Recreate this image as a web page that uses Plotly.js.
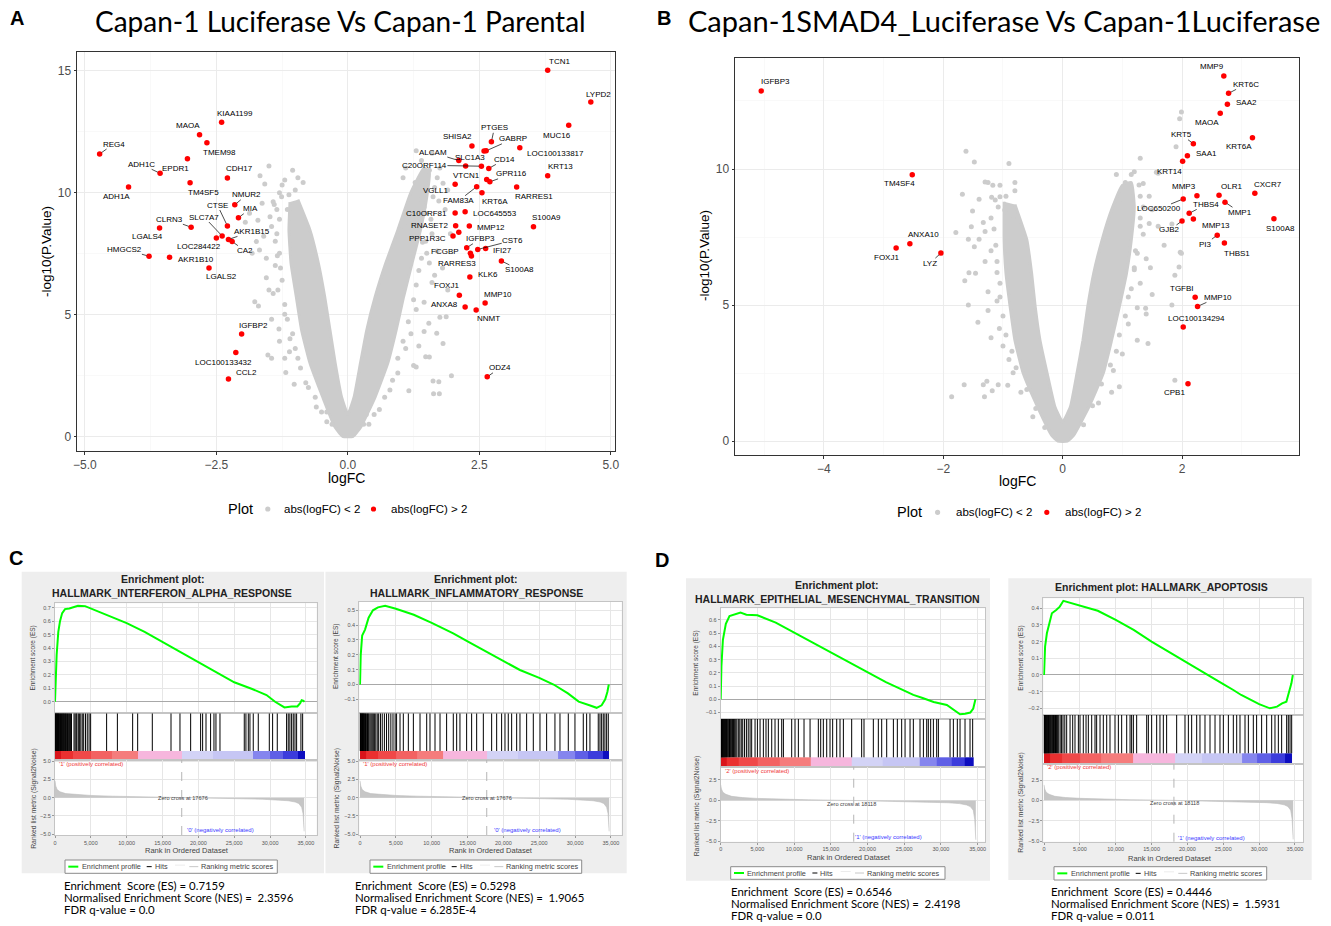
<!DOCTYPE html>
<html><head><meta charset="utf-8">
<script src="https://cdn.plot.ly/plotly-3.0.1.min.js"></script>
<style>html,body{margin:0;padding:0;background:#fff}#chart{width:1331px;height:926px}</style>
</head><body><div id="chart"></div>
<script>
// ================= DATA =================
// ---- Panel A: Capan-1 Luciferase vs Capan-1 Parental ----
const aGenes = ['REG4','KIAA1199','MAOA','TMEM98','EPDR1','ADH1C','CDH17','TM4SF5','ADH1A','NMUR2',
 'MIA','CTSE','SLC7A7','LOC284422','AKR1B15','CA2','CLRN3','LGALS4','HMGCS2','AKR1B10',
 'LGALS2','IGFBP2','LOC100133432','CCL2','TCN1','LYPD2','MUC16','LOC100133817','KRT13','RARRES1',
 'S100A9','SHISA2','PTGES','GABRP','ALCAM','SLC1A3','C20ORF114','CD14','VTCN1','GPR116',
 'FAM83A','KRT6A','VGLL1','C10ORF81','LOC645553','RNASET2','MMP12','PPP1R3C','IGFBP3','CST6',
 'FCGBP','IFI27','RARRES3','S100A8','KLK6','FOXJ1','MMP10','ANXA8','NNMT','ODZ4',
 '',''];
const aLogFC = [-4.72,-2.40,-2.82,-2.68,-3.05,-3.57,-2.29,-3.00,-4.17,-2.15,
 -2.08,-2.29,-2.39,-2.50,-2.27,-2.20,-2.98,-3.58,-3.78,-3.39,
 -2.64,-2.02,-2.13,-2.27,3.80,4.62,4.20,3.27,3.80,3.21,
 3.53,2.36,2.73,2.63,2.11,2.24,2.54,2.68,2.64,2.70,
 2.45,2.55,2.04,2.04,2.23,2.05,2.31,2.00,2.26,2.47,
 2.33,2.62,2.35,2.92,2.32,2.12,2.61,2.23,2.44,2.65,
 2.59,2.11];
const aNegLogP = [11.57,12.87,12.36,12.03,11.38,10.78,10.59,10.39,10.22,9.49,
 8.96,8.62,8.21,8.13,8.07,7.98,8.57,8.54,7.38,7.34,
 6.90,4.19,3.44,2.35,15.00,13.70,12.75,11.83,10.68,10.22,
 8.59,11.90,12.07,11.70,11.30,11.08,11.07,10.98,10.53,10.43,
 10.23,9.98,10.33,9.15,9.20,8.63,8.62,8.21,7.73,7.66,
 7.50,7.70,7.39,7.19,6.53,5.78,5.46,5.30,5.18,2.44,
 11.69,8.36];
const aGreyLogFC = [-1.67,-1.58,-1.30,-1.63,-1.42,-1.87,-1.71,-1.95,-1.74,-1.68,
 -1.82,-1.55,-1.77,-1.70,-1.52,-1.45,-1.18,-1.31,-1.11,-1.50,
 -1.26,-1.02,-1.38,-1.34,-1.42,-1.55,-1.30,-1.35,-1.25,-1.20,
 -1.10,-0.95,-0.80,-0.60,-1.35,-1.45,-1.15,-1.00,-0.85,-1.20,
 1.55,1.30,1.63,1.74,1.97,1.62,1.73,1.16,1.19,1.35,
 1.62,1.73,1.37,1.49,1.21,1.75,1.87,1.54,1.69,1.48,
 1.81,1.49,1.81,1.14,1.02,1.55,1.70,1.90,1.85,1.60,
 1.70,1.80,1.90,1.60,1.45,1.35,1.50,1.95,1.20,1.10,
 0.95,0.80,0.60,1.30,1.42,1.28,1.05,1.40,-0.30,0.30,
 0.35,-0.40,
 -1.40,-1.48,-1.38,-1.30,-1.28,-1.33,-1.20,-1.15,-1.05,-1.00,
 -0.90,-0.75,-0.62,-0.50,-0.40,-1.12,-1.25,-0.95,-1.05,-1.60,
 -1.50,-1.45,-1.30,-1.20,
 1.45,1.58,1.48,1.40,1.30,1.25,1.15,1.05,0.95,0.85,
 0.70,0.50,0.40,1.65,1.75,1.60,1.30,1.10,1.55,1.65,
 1.45,1.35,1.25];
const aGreyNegLogP = [10.68,10.34,9.98,9.55,9.61,9.14,8.86,8.77,7.98,7.64,
 7.50,7.30,5.52,5.34,3.33,3.20,2.62,4.40,3.47,11.08,
 9.82,2.14,7.00,7.40,5.85,6.50,8.90,8.30,6.40,5.00,
 4.00,3.20,2.20,1.20,9.30,8.60,9.30,10.10,10.40,10.50,
 3.25,2.84,1.75,1.75,2.48,2.27,2.24,1.87,9.71,9.71,
 9.82,9.64,9.00,9.14,8.59,4.88,4.90,4.63,4.22,3.26,
 3.81,10.23,10.37,8.59,8.45,10.90,10.60,10.10,9.30,8.30,
 7.60,6.90,6.00,6.30,5.50,6.80,7.50,8.30,4.20,3.60,
 2.60,1.90,1.10,5.20,7.95,10.40,10.60,11.30,0.50,0.50,
 0.90,1.00,
 9.50,9.00,8.00,7.50,6.90,6.00,5.40,4.80,4.20,3.60,
 2.80,2.00,1.60,1.00,0.60,9.90,10.30,10.60,10.90,8.20,
 6.00,4.80,3.90,3.20,
 9.40,8.90,8.00,7.30,6.20,5.60,4.70,3.90,3.20,2.30,
 1.60,0.90,0.50,10.20,11.00,11.60,11.70,11.00,7.10,6.60,
 4.30,3.70,2.90];
// outline of the dense grey V-shaped cloud (|logFC| < 2)
const aCoreLogFC = [-1.10,-1.12,-1.08,-0.98,-0.88,-0.72,-0.48,-0.25,-0.10,0.10,
 0.25,0.52,0.76,0.92,1.06,1.22,1.38,1.50,1.55,1.45,
 1.20,0.95,0.72,0.52,0.36,0.24,0.12,0.00,-0.12,-0.24,
 -0.34,-0.44,-0.56,-0.72,-0.95];
const aCoreNegLogP = [9.60,8.45,7.09,5.72,4.36,3.00,1.62,0.40,0.00,0.00,
 0.40,1.62,3.00,4.36,5.72,7.09,8.45,9.80,10.80,11.00,
 10.00,8.45,7.09,5.72,4.36,3.00,1.62,0.90,1.62,3.00,
 4.36,5.72,7.09,8.45,9.70];

// ---- Panel B: Capan-1 SMAD4_Luciferase vs Capan-1 Luciferase ----
const bGenes = ['IGFBP3','TM4SF4','ANXA10','FOXJ1','LYZ','MMP9','KRT6C','SAA2','MAOA','KRT5',
 'KRT6A','SAA1','KRT14','MMP3','OLR1','CXCR7','LOC650200','MMP1','THBS4','GJB2',
 'MMP13','S100A8','PI3','THBS1','TGFBI','MMP10','LOC100134294','CPB1'];
const bLogFC = [-5.05,-2.52,-2.56,-2.79,-2.04,2.70,2.78,2.76,2.64,2.19,
 3.18,2.09,2.01,2.25,2.62,3.22,2.02,2.72,2.12,2.00,
 2.19,3.54,2.59,2.71,2.22,2.26,2.02,2.10];
const bNegLogP = [12.87,9.79,7.25,7.10,6.91,13.42,12.78,12.38,12.05,10.93,
 11.15,10.49,10.29,9.02,9.04,9.11,8.90,8.78,8.37,8.09,
 8.16,8.17,7.57,7.28,5.29,4.95,4.19,2.11];
const bGreyLogFC = [1.99,1.96,1.90,1.57,1.60,1.35,1.28,1.02,1.83,1.99,
 -1.05,-0.97,-0.83,-1.62,-1.48,-1.30,-1.25,-1.17,-1.05,-1.68,
 -1.51,-1.40,-1.19,-1.13,-1.79,-1.53,-1.33,-1.58,-1.40,-1.48,
 -1.57,-1.46,-1.64,-1.58,-1.42,-1.86,-1.65,-1.33,-1.27,-1.08,
 -0.92,-1.18,-1.31,-0.83,-1.06,-1.25,-1.10,1.50,1.83,1.43,
 1.25,1.39,1.40,1.88,0.95,0.82,1.97,1.95,1.88,1.47,
 1.20,-1.20,-1.10,-1.30,-1.20,-1.00,-0.90,-1.05,-0.70,-0.50,
 1.30,1.35,1.25,1.15,1.10,1.00,0.85,0.60,1.50,1.60,
 1.70,1.45,1.15,1.30,0.90,-0.80,-0.90,
 -1.08,-1.15,-1.12,-1.10,-1.05,-1.00,-0.95,-0.85,-0.78,-0.60,
 -0.45,-0.30,-0.95,-0.80,-1.30,-1.25,-1.20,
 1.30,1.35,1.30,1.22,1.20,1.10,1.05,0.95,0.90,0.80,
 0.65,0.50,0.35,1.05,1.20,1.45,1.40,1.30,1.25];
const bGreyNegLogP = [12.10,11.85,10.82,9.88,9.84,9.47,9.41,8.86,7.98,6.90,
 8.98,8.49,8.26,10.65,10.26,9.52,9.50,9.40,9.40,9.07,
 8.46,8.89,8.96,8.86,7.67,7.88,8.03,7.42,7.42,7.14,
 6.19,6.17,5.89,5.00,4.37,1.63,2.07,2.07,2.20,2.07,
 2.05,1.85,1.63,2.51,4.14,5.49,5.15,5.39,5.00,3.59,
 3.71,4.88,4.67,2.24,2.00,1.80,6.94,6.40,6.10,6.37,
 6.37,7.00,6.60,6.60,8.20,3.50,3.00,5.80,1.80,0.90,
 8.20,7.60,6.90,5.60,4.30,3.20,2.60,1.40,8.50,7.90,
 7.20,9.00,9.80,10.40,9.80,9.50,10.20,
 8.60,7.80,7.20,6.20,5.30,4.60,3.90,3.30,2.70,1.90,
 1.20,0.50,9.00,9.20,7.70,4.80,3.80,
 9.00,8.60,7.90,7.00,6.30,5.30,4.60,3.90,3.30,2.80,
 2.10,1.30,0.60,9.50,9.90,8.00,6.70,5.80,4.90];
const bCoreLogFC = [-0.98,-0.98,-0.95,-0.88,-0.80,-0.66,-0.42,-0.18,-0.08,0.08,
 0.18,0.44,0.68,0.82,0.95,1.07,1.15,1.20,1.15,1.00,
 0.82,0.66,0.52,0.42,0.34,0.24,0.13,0.00,-0.13,-0.26,
 -0.38,-0.46,-0.52,-0.60,-0.80];
const bCoreNegLogP = [8.80,7.40,6.17,4.94,3.71,2.49,1.26,0.20,0.00,0.00,
 0.20,1.26,2.49,3.71,4.94,6.17,7.39,8.60,9.50,9.40,
 8.50,7.39,6.17,4.94,3.71,2.49,1.26,0.70,1.26,2.49,
 3.71,4.94,6.17,7.40,8.70];

// ---- GSEA panels (C: two gene sets, D: two gene sets) ----
const gseaTitles = [['Enrichment plot:','HALLMARK_INTERFERON_ALPHA_RESPONSE'],
 ['Enrichment plot:','HALLMARK_INFLAMMATORY_RESPONSE'],
 ['Enrichment plot:','HALLMARK_EPITHELIAL_MESENCHYMAL_TRANSITION'],
 ['Enrichment plot: HALLMARK_APOPTOSIS']];
const c1EsRank = [0,100,230,460,700,1000,1400,2000,2600,3200,4200,5000,7500,10000,12500,15000,17500,20000,22500,25000,27500,29500,30700,31500,32000,33000,33800,34200,34400,34600,34800];
const c1Es = [0,0.20,0.35,0.52,0.60,0.66,0.69,0.695,0.705,0.715,0.712,0.695,0.64,0.585,0.52,0.445,0.37,0.29,0.215,0.145,0.095,0.05,0.0,-0.03,-0.042,-0.035,-0.035,-0.01,0.012,0.008,0.0];
const c2EsRank = [0,100,300,700,1200,1800,2500,3500,5000,7500,10000,13000,15000,17500,20000,22300,25000,27000,29000,30500,32000,33000,33700,34200,34500,34700];
const c2Es = [0,0.20,0.33,0.37,0.45,0.50,0.52,0.53,0.51,0.47,0.415,0.345,0.29,0.226,0.16,0.098,0.045,0.0,-0.06,-0.115,-0.14,-0.157,-0.14,-0.10,-0.05,0.0];
const d1EsRank = [0,100,300,700,1200,1700,2700,3500,5000,7500,10000,12500,15000,17200,20000,22500,25000,26240,27500,29000,30800,32000,32600,33300,34000,34400,34700];
const d1Es = [0,0.25,0.45,0.57,0.63,0.64,0.655,0.64,0.635,0.58,0.505,0.43,0.355,0.285,0.20,0.13,0.065,0.033,0.01,-0.02,-0.043,-0.09,-0.113,-0.11,-0.10,-0.07,0.0];
const d2EsRank = [0,150,400,800,1100,1700,2200,2700,3500,5000,7500,10000,12500,15000,17500,20000,22500,25000,26400,27500,30000,31500,32500,33200,33800,34200,34500,34700];
const d2Es = [0,0.17,0.25,0.33,0.37,0.39,0.41,0.445,0.435,0.42,0.385,0.33,0.27,0.20,0.135,0.07,0.01,-0.055,-0.09,-0.12,-0.175,-0.20,-0.19,-0.17,-0.16,-0.10,-0.05,0.0];
const c1Hits = [30,80,130,180,240,300,360,420,480,540,600,680,760,840,920,1000,1080,1150,1230,1300,1400,1480,1560,1650,1750,1850,1950,2050,2150,2300,2650,2800,2950,3050,3250,3400,3600,3800,4000,4250,4500,4750,4970,7200,8700,10830,11530,13570,16180,17430,18920,20310,20590,21060,21700,22170,22450,23010,26400,26630,26960,27190,27650,28350,29890,30350,31000,32300,32530,32760,33000,33230,33470,33700,34300,34540];
const c2Hits = [20,70,120,170,230,290,350,410,470,530,600,680,760,850,950,1050,1150,1250,1400,1550,1700,1850,2000,2200,2400,2600,2850,3100,3400,3700,4000,4300,4600,4900,5100,5580,6040,6740,7440,8370,9300,9760,10460,11160,12080,13010,13480,13940,14870,15570,16270,17200,18360,19060,19750,20220,20680,21150,21850,22310,23240,24170,25100,26030,27190,27890,29050,29980,31140,31610,32070,33230,33470,33700,33930,34160,34400,34630];
const d1Hits = [20,70,120,170,230,290,350,420,490,560,640,720,800,900,1000,1100,1200,1320,1450,1600,1750,1900,2050,2200,2400,2600,2800,3000,3250,3500,3750,4000,4220,4680,5000,5360,5810,6170,6490,6950,7400,7850,8310,8540,9670,10120,10580,11350,12170,13300,13620,13980,14440,14890,15250,15800,16250,16710,17840,19200,19520,20790,21470,21930,22610,23520,24060,24650,25110,25790,26240,27150,27610,28060,28280,28600,28970,29420,29650,31240,31690,32230,32600,33280,33960,34320];
const d2Hits = [20,70,130,190,250,320,390,460,540,620,700,790,880,980,1080,1200,1320,1450,1600,1750,1900,2050,2250,2450,2650,2900,3160,3630,4000,4320,4790,5020,5480,5860,6180,6650,7110,7340,7810,8270,8740,9200,9900,10370,10830,11530,12000,12220,12460,12920,14320,14550,15010,15710,16170,16640,17100,18500,19660,20130,20590,21290,21750,22450,23150,23850,24540,25010,25710,26400,26870,27330,28030,28500,29190,29650,30350,31050,31750,32210,32680,33140,33840,34070,34310,34540];
// rank boundaries of the red -> blue correlation bar (12 bins)
const c1BarEdges = [0,800,2500,5000,8000,11600,17700,22000,27600,30000,31800,33900,34800];
const c2BarEdges = [0,800,2500,5000,8000,11600,17700,22000,27600,30000,31800,33900,34800];
const d1BarEdges = [0,800,2500,5000,8000,12200,17840,22000,27060,29420,31500,33280,34400];
const d2BarEdges = [0,800,2500,5000,8000,12460,18270,22000,27560,29650,31700,33600,34600];
// ranked list metric (Signal2Noise)
const cMetricRank = [0,100,300,700,1500,3000,5000,8000,12000,17676,22000,26000,29000,31000,32500,33500,34000,34400,34600,34750];
const cMetric = [2.3,1.6,1.1,0.8,0.55,0.4,0.3,0.2,0.1,0,-0.08,-0.15,-0.22,-0.3,-0.42,-0.6,-0.8,-1.3,-2.2,-4.6];
const dMetricRank = [0,100,300,700,1500,3000,5000,8000,12000,18118,22000,26000,29000,31000,32500,33500,34000,34400,34600,34750];
const dMetric = [1.9,1.4,1.0,0.75,0.5,0.35,0.25,0.17,0.08,0,-0.08,-0.14,-0.2,-0.28,-0.38,-0.55,-0.75,-1.2,-2.3,-4.8];
const zeroCross = [17676,17676,18118,18118];
const posLabels = ["'1' (positively correlated)","'1' (positively correlated)","'2' (positively correlated)","'2' (positively correlated)"];
const negLabels = ["'0' (negatively correlated)","'0' (negatively correlated)","'1' (negatively correlated)","'1' (negatively correlated)"];
const esScores = ['0.7159','0.5298','0.6546','0.4446'];
const nesScores = ['2.3596','1.9065','2.4198','1.5931'];
const fdrValues = ['0.0','6.285E-4','0.0','0.011'];

// ================= LAYOUT / STYLE =================
const W = 1331, H = 926;
const FONT = '"Liberation Sans", Arial, Helvetica, sans-serif';
const GILL = 'Lato, "Open Sans", sans-serif';
const fx = p => p / W, fy = p => 1 - p / H;
const layout = {width:W, height:H, margin:{l:0,r:0,t:0,b:0}, paper_bgcolor:'#ffffff', plot_bgcolor:'#ffffff',
  showlegend:false, shapes:[], annotations:[]};
const traces = [];
const sfx = n => n === 1 ? '' : String(n);
function setAxes(n, xd, yd, xo, yo){
  layout['xaxis'+sfx(n)] = Object.assign({domain:[fx(xd[0]), fx(xd[1])], anchor:'y'+sfx(n), fixedrange:true}, xo);
  layout['yaxis'+sfx(n)] = Object.assign({domain:[fy(yd[1]), fy(yd[0])], anchor:'x'+sfx(n), fixedrange:true}, yo);
}
function txt(text, xpx, ypx, o){
  layout.annotations.push(Object.assign({xref:'paper', yref:'paper', x:fx(xpx), y:fy(ypx), text:text, showarrow:false,
    xanchor:'center', yanchor:'middle', font:{family:FONT, size:10, color:'#000'}}, o||{}));
}
function rect(x0,y0,x1,y1,o){
  layout.shapes.push(Object.assign({type:'rect', xref:'paper', yref:'paper', x0:fx(x0), x1:fx(x1), y0:fy(y1), y1:fy(y0), layer:'below', line:{width:0}}, o||{}));
}
function hline(x0,x1,y,color,w){
  layout.shapes.push({type:'line', xref:'paper', yref:'paper', x0:fx(x0), x1:fx(x1), y0:fy(y), y1:fy(y), line:{color:color, width:w}});
}
function dot(cx,cy,r,color){
  layout.shapes.push({type:'circle', xref:'paper', yref:'paper', x0:fx(cx-r), x1:fx(cx+r), y0:fy(cy+r), y1:fy(cy-r), fillcolor:color, line:{width:0}});
}

// ---------- volcano plots ----------
const GREY = '#cccccc', RED = '#ff0000';
function volcAxes(n, xd, yd, xr, yr, xdt, xminor, xfmt){
  const c = {showgrid:true, gridcolor:'#ebebeb', gridwidth:1, zeroline:false, showline:true, mirror:true,
    linecolor:'#333333', linewidth:1, ticks:'outside', ticklen:2.5, tickwidth:1, tickcolor:'#333333',
    tickfont:{family:FONT, size:12, color:'#4d4d4d'}};
  setAxes(n, xd, yd,
    Object.assign({}, c, {range:xr, dtick:xdt, tick0:0, tickformat:xfmt, minor:{dtick:xminor, showgrid:true, gridcolor:'#f5f5f5', gridwidth:0.6}}),
    Object.assign({}, c, {range:yr, dtick:5, tick0:0, tickformat:'d', minor:{dtick:2.5, showgrid:true, gridcolor:'#f5f5f5', gridwidth:0.6}}));
}
volcAxes(1, [77,615], [52,451], [-5.15,5.08], [-0.60,15.75], 2.5, 1.25, '.1f');
volcAxes(2, [735,1299], [58,455], [-5.49,3.96], [-0.51,14.08], 2, 1, 'd');

const aLabelPos = {REG4:[14,-10,1],KIAA1199:[13,-9,0],MAOA:[-12,-9,0],TMEM98:[13,10,0],EPDR1:[-12,10,0],ADH1C:[-19,-9,1],
 CDH17:[12,-9,0],TM4SF5:[13,10,0],ADH1A:[-12,10,0],NMUR2:[12,-10,1],MIA:[12,-9,1],CTSE:[-10,-21,1],SLC7A7:[-18,-19,1],
 LOC284422:[-17,9,0],AKR1B15:[24,-8,1],CA2:[13,9,1],CLRN3:[-22,-8,1],LGALS4:[-12,9,0],HMGCS2:[-25,-7,1],AKR1B10:[26,2,0],
 LGALS2:[12,9,0],IGFBP2:[12,-9,0],LOC100133432:[-12,10,0],CCL2:[18,-7,0],TCN1:[12,-9,0],LYPD2:[8,-8,0],MUC16:[-12,10,0],
 LOC100133817:[36,6,0],KRT13:[13,-9,0],RARRES1:[17,10,0],S100A9:[13,-9,0],SHISA2:[-14,-9,0],PTGES:[3,-14,1],GABRP:[27,-12,1],
 ALCAM:[-26,-8,1],SLC1A3:[4,-8,0],C20ORF114:[-57,-1,1],CD14:[16,-9,1],VTCN1:[-20,-4,0],GPR116:[22,-8,1],FAM83A:[-18,14,1],
 KRT6A:[13,9,0],VGLL1:[-19.5,6,0],C10ORF81:[-28.6,0,0],LOC645553:[30,2,0],RNASET2:[-26.5,0,0],MMP12:[22,1,0],PPP1R3C:[-25.5,2,0],
 IGFBP3:[14,-9,1],CST6:[35,-9,1],FCGBP:[-25,-2,0],IFI27:[17,2,0],RARRES3:[-14,7,0],S100A8:[18,9,1],KLK6:[18,-3,0],FOXJ1:[-13,-10,0],
 MMP10:[13,-9,0],ANXA8:[-20.5,-3,0],NNMT:[12,9,0],ODZ4:[13,-9,1]};
const bLabelPos = {IGFBP3:[14,-9,0],TM4SF4:[-13,9,0],ANXA10:[14,-9,0],FOXJ1:[-10,10,0],LYZ:[-11,10,1],MMP9:[-12,-9,0],KRT6C:[17,-9,1],
 SAA2:[19,-2,0],MAOA:[-13,9,0],KRT5:[-12,-9,1],KRT6A:[-13,9,0],SAA1:[19,-2,0],KRT14:[-13,10,0],MMP3:[-13,-9,0],OLR1:[12,-9,0],
 CXCR7:[13,-9,0],LOC650200:[-24.5,10,1],MMP1:[15,10,1],THBS4:[17,-9,1],GJB2:[-12.5,9,1],MMP13:[22.5,6.7,0],S100A8:[7,10,0],
 PI3:[-12,9,1],THBS1:[13,10,0],TGFBI:[-13.5,-9,0],MMP10:[20,-9,1],LOC100134294:[13,-9,0],CPB1:[-13,9,0]};

function volcano(n, coreX, coreY, gx, gy, rx, ry, genes, pos){
  const xa = 'x'+sfx(n), ya = 'y'+sfx(n);
  traces.push({type:'scatter', mode:'lines', x:coreX, y:coreY, fill:'toself', fillcolor:GREY,
    line:{width:3, color:GREY, shape:'spline', smoothing:0.4}, xaxis:xa, yaxis:ya, hoverinfo:'skip'});
  traces.push({type:'scatter', mode:'markers', name:'abs(logFC) < 2', x:gx, y:gy, marker:{size:5, color:GREY}, xaxis:xa, yaxis:ya});
  traces.push({type:'scatter', mode:'markers', name:'abs(logFC) > 2', x:rx, y:ry, text:genes, marker:{size:5.5, color:RED}, xaxis:xa, yaxis:ya});
  genes.forEach((g,i)=>{
    if(!g) return;
    const o = pos[g];
    layout.annotations.push({xref:xa, yref:ya, x:rx[i], y:ry[i], text:g, showarrow:true, arrowhead:0, arrowwidth:0.7,
      arrowcolor:o[2] ? '#000000' : 'rgba(0,0,0,0)', ax:o[0], ay:o[1], standoff:2.5, borderpad:0,
      font:{family:FONT, size:8, color:'#000'}});
  });
}
volcano(1, aCoreLogFC, aCoreNegLogP, aGreyLogFC, aGreyNegLogP, aLogFC, aNegLogP, aGenes, aLabelPos);
volcano(2, bCoreLogFC, bCoreNegLogP, bGreyLogFC, bGreyNegLogP, bLogFC, bNegLogP, bGenes, bLabelPos);

// volcano titles, axis titles, legends
txt('Capan-1 Luciferase Vs Capan-1 Parental', 340, 21, {font:{family:GILL, size:28, color:'#000'}});
txt('Capan-1SMAD4_Luciferase Vs Capan-1Luciferase', 1004, 21, {font:{family:GILL, size:29, color:'#000'}});
txt('logFC', 346, 478, {font:{family:FONT, size:14, color:'#000'}});
txt('logFC', 1017, 481, {font:{family:FONT, size:14, color:'#000'}});
txt('-log10(P.Value)', 46, 252, {textangle:-90, font:{family:FONT, size:13.5, color:'#000'}});
txt('-log10(P.Value)', 704, 256, {textangle:-90, font:{family:FONT, size:13.5, color:'#000'}});
[[240.2,509,267.8,282.1,373.5,389],[909.6,512.3,937.6,953.9,1046.8,1062.7]].forEach(L=>{
  txt('Plot', L[0], L[1], {font:{family:FONT, size:14.5, color:'#000'}});
  dot(L[2], L[1], 2.6, GREY);
  txt('abs(logFC) < 2', L[3], L[1], {xanchor:'left', font:{family:FONT, size:11.5, color:'#000'}});
  dot(L[4], L[1], 2.6, RED);
  txt('abs(logFC) > 2', L[5], L[1], {xanchor:'left', font:{family:FONT, size:11.5, color:'#000'}});
});
// panel letters
[['A',17,18],['B',664,18],['C',16,558],['D',662,560]].forEach(l=>txt(l[0], l[1], l[2], {font:{family:FONT, size:20, color:'#000', weight:'bold'}}));

// ---------- GSEA panels ----------
const barColours = ['#d9141a','#ea3030','#f04848','#f36262','#f57c7c','#f6b6dd','#d3d3f6','#c6c6f4','#8585ee','#5f5fe6','#3c3cdc','#0d0dbf'];
const barScale = barColours.map((c,i)=>[i/(barColours.length-1), c]);
const panels = [
 {box:[21.7,571.7,324,873.3], plot:[55,316.7], esPx:[603.3,713.3], stripPx:[713.3,760], metPx:[760,835], sMin:-0.239,
  xr:[0,36500], esr:[-0.086,0.733], mr:[-5.1,5.14], tpos:[[162.5,579],[172,592.7]], esT:[33.3,658.3], metT:[33.3,798.5],
  rankT:[186.7,850], leg:[65,860,277.3,873.3], stats:[61.7,885.7,11.65], pos:[57,764], zc:[183,797.7], neg:[185,830],
  esR:c1EsRank, esV:c1Es, hits:c1Hits, bar:c1BarEdges, mR:cMetricRank, m:cMetric},
 {box:[325.5,571.7,626.7,873.3], plot:[359.3,621.7], esPx:[601.7,713.3], stripPx:[713.3,760], metPx:[760,835], sMin:-0.239,
  xr:[-100,36500], esr:[-0.194,0.558], mr:[-5.1,5.14], tpos:[[475.2,579],[476.7,592.7]], esT:[336,657], metT:[336,798.5],
  rankT:[490.7,850], leg:[370,860,581.7,873.3], stats:[353.3,885.7,11.65], pos:[360.7,764], zc:[487.2,797.7], neg:[491.7,830],
  esR:c2EsRank, esV:c2Es, hits:c2Hits, bar:c2BarEdges, mR:cMetricRank, m:cMetric},
 {box:[686,578.3,990,880.7], plot:[720.7,985], esPx:[608.3,719], stripPx:[719,766.7], metPx:[766.7,841.7], sMin:-0.245,
  xr:[0,36000], esr:[-0.149,0.688], mr:[-5.03,4.12], tpos:[[837,585],[837.5,598.7]], esT:[696,663.7], metT:[697.3,806],
  rankT:[849,857.7], leg:[730.7,866.7,945,879.3], stats:[729,891.7,12], pos:[723.3,770.7], zc:[851.7,804], neg:[852.7,837],
  esR:d1EsRank, esV:d1Es, hits:d1Hits, bar:d1BarEdges, mR:dMetricRank, m:dMetric},
 {box:[1008.3,578.3,1311.7,880], plot:[1043.3,1303.3], esPx:[598.3,715], stripPx:[715,764], metPx:[764,841.7], sMin:-0.279,
  xr:[-100,36160], esr:[-0.24,0.46], mr:[-5.08,4.47], tpos:[[1161.3,586.7]], esT:[1020.7,658], metT:[1020.7,803],
  rankT:[1170,858.3], leg:[1054,866.7,1266.7,880], stats:[1049.3,891.7,12], pos:[1045,767.3], zc:[1174.7,802.7], neg:[1175.7,838.3],
  esR:d2EsRank, esV:d2Es, hits:d2Hits, bar:d2BarEdges, mR:dMetricRank, m:dMetric}
];
const gTick = {family:FONT, size:5.5, color:'#555555'};
const GRID = '#e6e6e6', FRAME = '#c4c4c4';
panels.forEach((p,i)=>{
  const nE = 3+3*i, nS = 4+3*i, nM = 5+3*i;
  rect(p.box[0], p.box[1], p.box[2], p.box[3], {fillcolor:'#eeeeee'});
  rect(p.plot[0], p.esPx[0], p.plot[1], p.metPx[1], {fillcolor:'#ffffff'});
  const frame = {showline:true, mirror:true, linecolor:FRAME, linewidth:1, zeroline:false};
  setAxes(nE, p.plot, p.esPx,
    Object.assign({}, frame, {range:p.xr, showticklabels:false, ticks:'', showgrid:true, gridcolor:GRID, dtick:5000, tick0:0}),
    Object.assign({}, frame, {range:p.esr, dtick:0.1, tick0:0, tickformat:'.1f', showgrid:true, gridcolor:GRID,
      zeroline:true, zerolinecolor:'#a8a8a8', zerolinewidth:1, ticks:'outside', ticklen:2, tickcolor:'#999', tickfont:gTick}));
  setAxes(nS, p.plot, p.stripPx,
    Object.assign({}, frame, {range:p.xr, showticklabels:false, ticks:'', showgrid:false}),
    Object.assign({}, frame, {range:[p.sMin,1], showticklabels:false, ticks:'', showgrid:false}));
  setAxes(nM, p.plot, p.metPx,
    Object.assign({}, frame, {range:p.xr, dtick:5000, tick0:0, tickformat:',d', showgrid:true, gridcolor:GRID,
      ticks:'outside', ticklen:2, tickcolor:'#999', tickfont:gTick}),
    Object.assign({}, frame, {range:p.mr, dtick:2.5, tick0:0, tickformat:'.1f', showgrid:true, gridcolor:GRID,
      ticks:'outside', ticklen:2, tickcolor:'#999', tickfont:gTick}));
  const xE='x'+nE, yE='y'+nE, xS='x'+nS, yS='y'+nS, xM='x'+nM, yM='y'+nM;
  // running enrichment score
  traces.push({type:'scatter', mode:'lines', x:p.esR, y:p.esV, line:{color:'#00ff00', width:2}, xaxis:xE, yaxis:yE, hoverinfo:'skip'});
  // hits
  const hx = [], hy = [];
  p.hits.forEach(h=>{ hx.push(h,h,null); hy.push(0,1,null); });
  traces.push({type:'scatter', mode:'lines', x:hx, y:hy, line:{color:'#000000', width:1}, xaxis:xS, yaxis:yS, hoverinfo:'skip'});
  // correlation colour bar
  traces.push({type:'heatmap', x:p.bar, y:[p.sMin,0], z:[p.bar.slice(1).map((_,k)=>k)], colorscale:barScale, zmin:0, zmax:barColours.length-1,
    showscale:false, xaxis:xS, yaxis:yS, hoverinfo:'skip'});
  // ranked list metric
  traces.push({type:'scatter', mode:'lines', x:p.mR, y:p.m, fill:'tozeroy', fillcolor:'#c6c6c6', line:{color:'#bdbdbd', width:0.6},
    xaxis:xM, yaxis:yM, hoverinfo:'skip'});
  layout.shapes.push({type:'line', xref:xM, yref:yM+' domain', x0:zeroCross[i], x1:zeroCross[i], y0:0, y1:1,
    line:{color:'#b5b5b5', width:1, dash:'dash'}});
  // texts
  gseaTitles[i].forEach((t,k)=>txt(t, p.tpos[k][0], p.tpos[k][1], {font:{family:FONT, size:10.5, color:'#222', weight:'bold'}}));
  txt('Enrichment score (ES)', p.esT[0], p.esT[1], {textangle:-90, font:{family:FONT, size:6.5, color:'#444'}});
  txt('Ranked list metric (Signal2Noise)', p.metT[0], p.metT[1], {textangle:-90, font:{family:FONT, size:6.8, color:'#444'}});
  txt('Rank in Ordered Dataset', p.rankT[0], p.rankT[1], {font:{family:FONT, size:7.5, color:'#444'}});
  txt(posLabels[i], p.pos[0], p.pos[1], {xanchor:'left', font:{family:FONT, size:6, color:'#f03a3a'}});
  txt('Zero cross at '+zeroCross[i], p.zc[0], p.zc[1], {font:{family:FONT, size:5.6, color:'#444'}});
  txt(negLabels[i], p.neg[0], p.neg[1], {xanchor:'left', font:{family:FONT, size:6, color:'#3a3aff'}});
  // legend box
  const L = p.leg, ly = (L[1]+L[3])/2;
  rect(L[0], L[1], L[2], L[3], {fillcolor:'#ffffff', line:{color:'#8a8a8a', width:1}, layer:'above'});
  hline(L[0]+3.3, L[0]+13.3, ly, '#00ff00', 2);
  txt('Enrichment profile', L[0]+14.5, ly, {xanchor:'left', font:{family:FONT, size:7.3, color:'#444'}});
  hline(L[0]+81.7, L[0]+86.7, ly, '#000000', 1);
  txt('Hits', L[0]+87.7, ly, {xanchor:'left', font:{family:FONT, size:7.3, color:'#444'}});
  hline(L[0]+110, L[0]+120, ly-1.5, '#ececec', 1);
  hline(L[0]+124.3, L[0]+133.3, ly, '#c8c8c8', 1);
  txt('Ranking metric scores', L[0]+134.3, ly, {xanchor:'left', font:{family:FONT, size:7.3, color:'#444'}});
  // statistics
  const S = p.stats;
  txt('Enrichment\u00a0\u00a0Score (ES) = '+esScores[i], S[0], S[1], {xanchor:'left', font:{family:GILL, size:11.4, color:'#000'}});
  txt('Normalised Enrichment Score (NES) =\u00a0\u00a0'+nesScores[i], S[0], S[1]+S[2], {xanchor:'left', font:{family:GILL, size:11.4, color:'#000'}});
  txt('FDR q-value = '+fdrValues[i], S[0], S[1]+2*S[2], {xanchor:'left', font:{family:GILL, size:11.4, color:'#000'}});
});

Plotly.newPlot('chart', traces, layout, {staticPlot:true, displayModeBar:false});
</script>
</body></html>
